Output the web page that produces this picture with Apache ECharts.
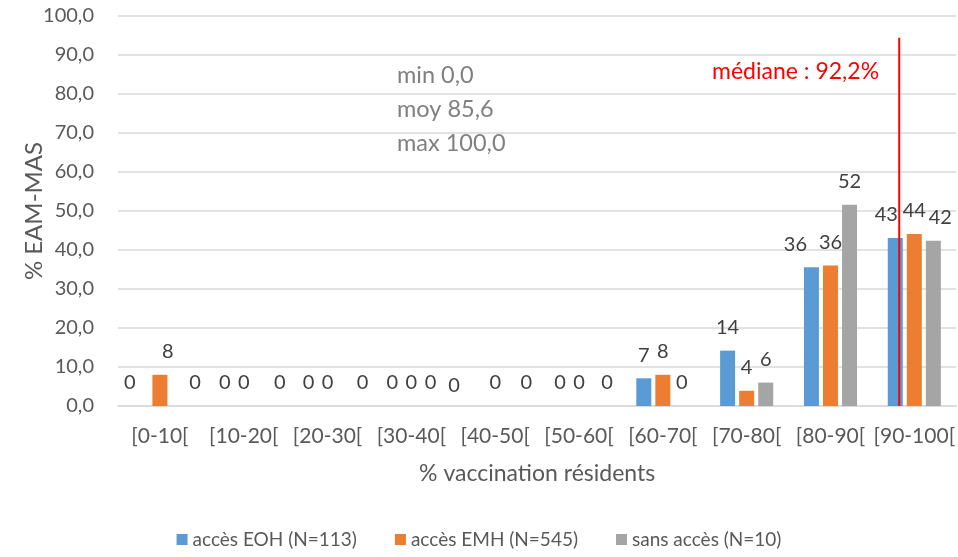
<!DOCTYPE html>
<html><head><meta charset="utf-8">
<script src="https://cdn.jsdelivr.net/npm/echarts@6/dist/echarts.min.js"></script>
<style>html,body{margin:0;padding:0;background:#fff}#c{width:958px;height:557px}</style>
</head><body><div id="c"></div>
<script>
const categories = ['[0-10[','[10-20[','[20-30[','[30-40[','[40-50[','[50-60[','[60-70[','[70-80[','[80-90[','[90-100['];
const seriesNames = ['accès EOH (N=113)','accès EMH (N=545)','sans accès (N=10)'];
const eohValues = [0,0,0,0,0,0,7.1,14.2,35.6,43.1];
const emhValues = [8.0,0,0,0,0,0,8.0,3.9,36.0,44.1];
const sansValues = [0,0,0,0,0,0,0,6.0,51.6,42.4];
const yTicks = {min:0, max:100, interval:10};
const medianLabel = 'médiane : 92,2%';
const medianPos = 93.2;
const medianTop = 94.4;
const statsLines = ['min 0,0','moy 85,6','max 100,0'];

// styling (label nudges as in the original, series -> category -> [dx, dy])
const colors = ['#5B9BD5','#ED7D31','#A5A5A5'];
const FONT = 'Lato';
const labelNudge = [
  {0:[-11,0], 4:[-22,3], 8:[-16,0], 9:[-9,0]},
  {0:[8,0]},
  {0:[16,0], 1:[17,0], 2:[16,0], 4:[12,0], 5:[9,0], 9:[7,0]}
];

const chart = echarts.init(document.getElementById('c'));
const mk = (name, data, i) => ({name, type:'bar', xAxisIndex:0, yAxisIndex:0,
  barWidth:15, barGap:'27%', itemStyle:{color:colors[i]},
  label:{show:true, position:'top', distance:13, color:'#404040', fontSize:20, fontFamily:FONT,
    formatter: p => Math.round(p.value).toString()},
  data: data.map((v, k) => labelNudge[i][k] ? {value:v, label:{offset:labelNudge[i][k]}} : v)});
chart.setOption({
  animation:false,
  textStyle:{fontFamily:FONT},
  grid:{left:118, right:0, top:16, bottom:151, containLabel:false},
  legend:{bottom:3, left:'center', itemWidth:11, itemHeight:11, itemGap:38, icon:'rect',
    textStyle:{fontSize:19, color:'#595959', fontFamily:FONT}, data:seriesNames},
  xAxis:[{type:'category', data:categories, axisTick:{show:false},
    axisLine:{lineStyle:{color:'#d9d9d9', width:1.5}},
    axisLabel:{color:'#595959', fontSize:21, margin:20, interval:0, fontFamily:FONT},
    name:'% vaccination résidents', nameLocation:'middle', nameGap:56, nameMoveOverlap:false,
    nameTextStyle:{color:'#595959', fontSize:23, fontFamily:FONT}},
   {type:'value', min:0, max:100, show:false}],
  yAxis:{type:'value', min:yTicks.min, max:yTicks.max, interval:yTicks.interval,
    axisLine:{show:false}, axisTick:{show:false},
    splitLine:{lineStyle:{color:'#d9d9d9', width:1.5}},
    axisLabel:{color:'#595959', fontSize:20, margin:24, fontFamily:FONT,
      formatter: v => v.toFixed(1).replace('.', ',')},
    name:'% EAM-MAS', nameLocation:'middle', nameGap:72, nameRotate:90, nameMoveOverlap:false,
    nameTextStyle:{color:'#595959', fontSize:24, fontFamily:FONT}},
  graphic:[
    {type:'text', left:712, top:60, style:{text:medianLabel, fill:'#FF0000', fontSize:23, fontFamily:FONT}},
    {type:'text', left:397, top:58, style:{text:statsLines.join('\n'), fill:'#808080', fontSize:23.5, lineHeight:34, fontFamily:FONT}}
  ],
  series:[
    mk(seriesNames[0], eohValues, 0),
    mk(seriesNames[1], emhValues, 1),
    mk(seriesNames[2], sansValues, 2),
    {name:'médiane', type:'line', xAxisIndex:1, yAxisIndex:0, symbol:'none', silent:true,
      lineStyle:{color:'#FF0000', width:2}, z:5,
      data:[[medianPos,0],[medianPos,medianTop]]}
  ]
});
</script></body></html>
